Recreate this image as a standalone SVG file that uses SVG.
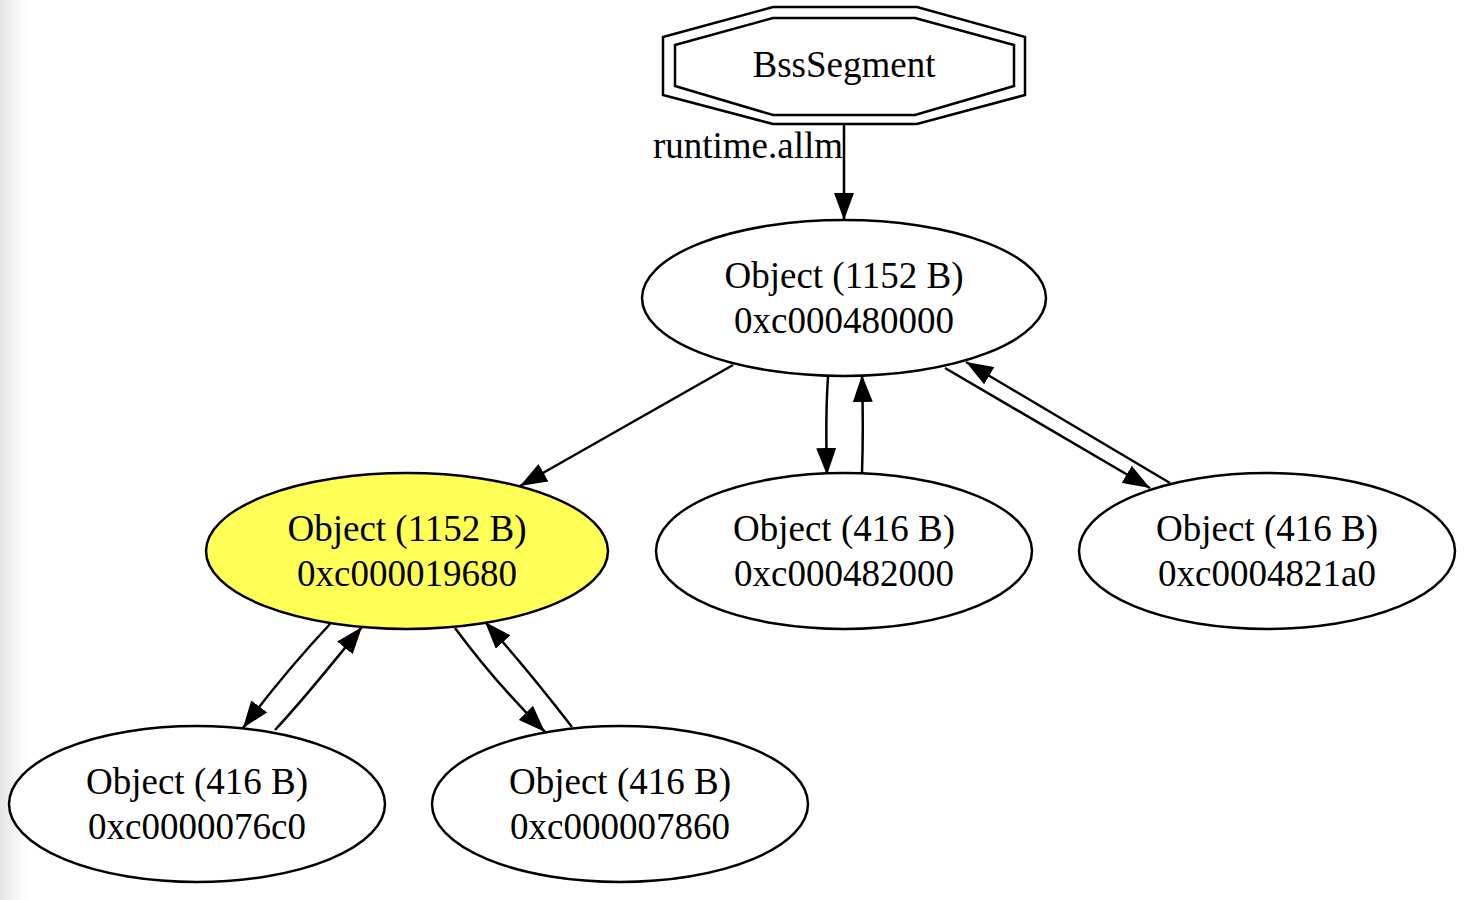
<svg xmlns="http://www.w3.org/2000/svg" width="1470" height="900" viewBox="0 0 1470 900">
<defs>
<linearGradient id="bg" x1="0" y1="0" x2="1" y2="0">
<stop offset="0" stop-color="#e6e6e6"/>
<stop offset="1" stop-color="#ffffff"/>
</linearGradient>
<marker id="ah" viewBox="0 0 27 20" refX="27" refY="10" markerWidth="27" markerHeight="20" markerUnits="userSpaceOnUse" orient="auto">
<path d="M0,0 L27,10 L0,20 Z" fill="#000"/>
</marker>
</defs>
<style>
.n{fill:#fff;stroke:#000;stroke-width:2.5}
.y{fill:#ffff55}
.t{font-family:"Liberation Serif","Times New Roman",serif;font-size:37px;fill:#000;text-anchor:middle}
.e{fill:none;stroke:#000;stroke-width:2.5;marker-end:url(#ah)}
</style>
<rect x="0" y="0" width="1470" height="900" fill="#fff"/>
<rect x="0" y="0" width="28" height="900" fill="url(#bg)"/>
<g id="connectors">
<path class="e" d="M844,125 L844,220"/>
<path class="e" d="M733,365 L520,486"/>
<path class="e" d="M828,377 C826,405 826,440 827,475"/>
<path class="e" d="M862,473 C863,445 863,410 862,375"/>
<path class="e" d="M945,368 L1150,488"/>
<path class="e" d="M1170,483 L966,362"/>
<path class="e" d="M330,624 C300,656 270,692 243,728"/>
<path class="e" d="M275,730 C305,698 335,660 362,627"/>
<path class="e" d="M455,628 C480,662 510,697 545,732"/>
<path class="e" d="M572,727 C545,692 515,655 485,622"/>
<text class="t" x="843" y="158" style="text-anchor:end">runtime.allm</text>
</g>
<g id="bss">
<polygon class="n" points="773,7 917,7 1025,37 1025,95 917,124 773,124 663,95 663,37"/>
<polygon class="n" style="fill:none" points="773,18 915,18 1014,45 1014,86 915,115 773,115 675,86 675,45"/>
<text class="t" x="844" y="77">BssSegment</text>
</g>
<g id="obj480000">
<ellipse class="n" cx="844" cy="298" rx="202" ry="78"/>
<text class="t" x="844" y="288">Object (1152 B)</text>
<text class="t" x="844" y="333">0xc000480000</text>
</g>
<g id="obj019680">
<ellipse class="n y" cx="407" cy="551" rx="201" ry="78"/>
<text class="t" x="407" y="541">Object (1152 B)</text>
<text class="t" x="407" y="586">0xc000019680</text>
</g>
<g id="obj482000">
<ellipse class="n" cx="844" cy="551" rx="188" ry="78"/>
<text class="t" x="844" y="541">Object (416 B)</text>
<text class="t" x="844" y="586">0xc000482000</text>
</g>
<g id="obj4821a0">
<ellipse class="n" cx="1267" cy="551" rx="188" ry="78"/>
<text class="t" x="1267" y="541">Object (416 B)</text>
<text class="t" x="1267" y="586">0xc0004821a0</text>
</g>
<g id="obj0076c0">
<ellipse class="n" cx="197" cy="804" rx="188" ry="78"/>
<text class="t" x="197" y="794">Object (416 B)</text>
<text class="t" x="197" y="839">0xc0000076c0</text>
</g>
<g id="obj007860">
<ellipse class="n" cx="620" cy="804" rx="188" ry="78"/>
<text class="t" x="620" y="794">Object (416 B)</text>
<text class="t" x="620" y="839">0xc000007860</text>
</g>
</svg>
